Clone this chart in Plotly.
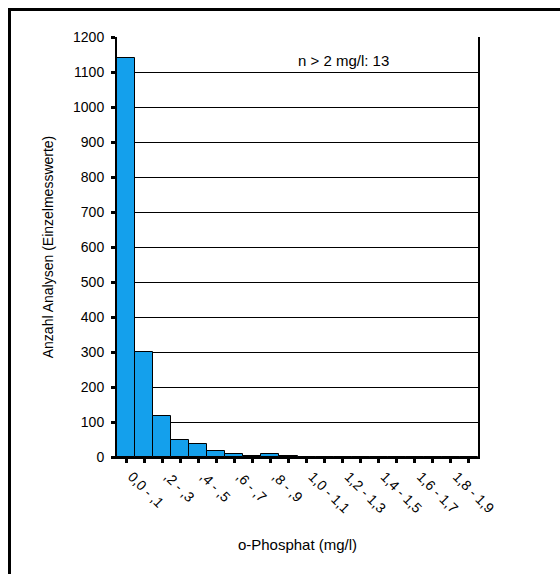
import plotly.graph_objects as go

# Concentration classes (mg/l), decimal comma notation
categories = [
    "0,0 - ,1", ",1 - ,2", ",2 - ,3", ",3 - ,4", ",4 - ,5",
    ",5 - ,6", ",6 - ,7", ",7 - ,8", ",8 - ,9", ",9 - 1,0",
    "1,0 - 1,1", "1,1 - 1,2", "1,2 - 1,3", "1,3 - 1,4", "1,4 - 1,5",
    "1,5 - 1,6", "1,6 - 1,7", "1,7 - 1,8", "1,8 - 1,9", "1,9 - 2,0",
]
# Number of single measurements per class
counts = [1140, 300, 117, 50, 37, 17, 8, 3, 8, 3,
          0, 0, 0, 0, 0, 0, 0, 0, 0, 0]
y_ticks = list(range(0, 1300, 100))
note = "n > 2 mg/l: 13"

# only every second class gets a written label
tick_text = [c if i % 2 == 0 else "" for i, c in enumerate(categories)]

FONT = "Liberation Sans, Arial, sans-serif"

fig = go.Figure(
    go.Bar(
        x=categories,
        y=counts,
        marker=dict(color="#14a0ec", line=dict(color="black", width=1)),
    )
)

W, H = 560, 574
ml, mr, mt, mb = 117, 82, 37, 117
pw, ph = W - ml - mr, H - mt - mb

fig.update_layout(
    width=W,
    height=H,
    margin=dict(l=ml, r=mr, t=mt, b=mb, pad=0),
    paper_bgcolor="white",
    plot_bgcolor="white",
    bargap=0,
    showlegend=False,
    font=dict(family=FONT, size=14, color="black"),
    xaxis=dict(
        type="category",
        tickmode="array",
        tickvals=categories,
        ticktext=tick_text,
        tickangle=45,
        ticks="outside",
        ticklen=4,
        tickwidth=3,
        tickcolor="black",
        ticklabelstandoff=0,
        ticklabelshift=6,
        showline=True,
        linecolor="black",
        linewidth=2,
        showgrid=False,
        tickfont=dict(size=14),
        title=dict(text="o-Phosphat (mg/l)", font=dict(size=15), standoff=24),
    ),
    yaxis=dict(
        range=[0, 1200],
        tickvals=y_ticks,
        ticks="outside",
        ticklen=4,
        tickwidth=3,
        tickcolor="black",
        ticklabelstandoff=4,
        showline=True,
        mirror=True,
        linecolor="black",
        linewidth=2,
        showgrid=True,
        gridcolor="black",
        gridwidth=1,
        zeroline=False,
        tickfont=dict(size=14),
        title=dict(text="Anzahl Analysen (Einzelmesswerte)", font=dict(size=14), standoff=16),
    ),
    annotations=[
        dict(
            text=note,
            xref="paper", yref="paper",
            x=(343 - ml) / pw, y=(H - mb - 60) / ph,
            xanchor="center", yanchor="middle",
            showarrow=False,
            font=dict(size=15),
        )
    ],
    shapes=[
        # outer frame around the whole graphic
        dict(
            type="rect",
            xref="paper", yref="paper",
            x0=(9.5 - ml) / pw, x1=(W + 10 - ml) / pw,
            y0=(H - mb - (H + 10)) / ph, y1=(H - mb - 9.5) / ph,
            line=dict(color="black", width=3),
            fillcolor="rgba(0,0,0,0)",
            layer="above",
        )
    ],
)

fig.write_html("out.html")
